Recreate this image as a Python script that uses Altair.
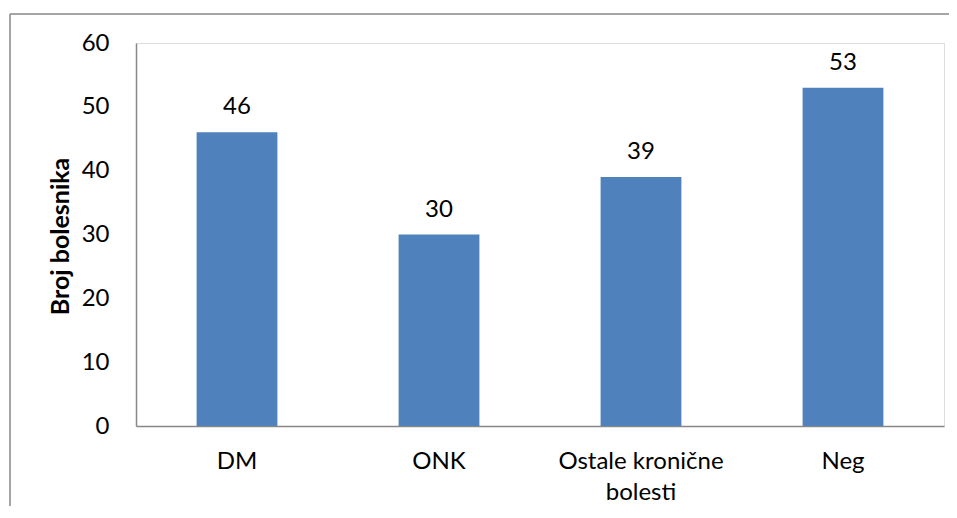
import altair as alt
import pandas as pd

categories = ["DM", "ONK", "Ostale kronične bolesti", "Neg"]
values = [46, 30, 39, 53]
y_ticks = [0, 10, 20, 30, 40, 50, 60]

df = pd.DataFrame({"kat": categories, "broj": values})

FONT = "Lato"
FS = 24
W, H = 808, 383

x_enc = alt.X(
    "kat:N",
    sort=categories,
    title=None,
    scale=alt.Scale(paddingInner=0.6, paddingOuter=0.3),
    axis=alt.Axis(
        labelAngle=0,
        ticks=False,
        domainColor="#878787",
        domainWidth=1.5,
        labelFont=FONT,
        labelFontSize=FS,
        labelColor="#000000",
        labelPadding=23,
        labelLineHeight=31,
        labelBaseline="top",
        labelExpr="datum.label == 'Ostale kronične bolesti' ? ['Ostale kronične', 'bolesti'] : datum.label",
    ),
)
y_enc = alt.Y(
    "broj:Q",
    title="Broj bolesnika",
    scale=alt.Scale(domain=[0, 60], nice=False),
    axis=alt.Axis(
        values=y_ticks,
        ticks=False,
        grid=False,
        domainColor="#878787",
        domainWidth=1.5,
        labelFont=FONT,
        labelFontSize=FS,
        labelColor="#000000",
        labelPadding=27,
        titleFont=FONT,
        titleFontSize=25,
        titleFontWeight="bold",
        titleColor="#000000",
        titleAngle=-90,
        titleX=-76,
        titleY=193,
        titleAlign="center",
        titleBaseline="middle",
    ),
)

bars = alt.Chart(df).mark_bar(color="#4F81BD").encode(x=x_enc, y=y_enc)
texts = alt.Chart(df).mark_text(
    font=FONT, fontSize=FS, color="#000000", baseline="alphabetic", dy=-18
).encode(x=alt.X("kat:N", sort=categories), y="broj:Q", text="broj:Q")

one = pd.DataFrame({"a": [0]})
frame_left = alt.Chart(one).mark_rule(color="#878787", strokeWidth=1.5).encode(
    x=alt.value(-126), y=alt.value(-29), y2=alt.value(H + 200)
)
frame_top = alt.Chart(one).mark_rule(color="#878787", strokeWidth=1.5).encode(
    x=alt.value(-126), x2=alt.value(W + 5), y=alt.value(-29), y2=alt.value(-29)
)

chart = alt.layer(frame_left, frame_top, bars, texts).properties(
    width=W, height=H,
    autosize=alt.AutoSizeParams(type="none"),
    padding={"left": 128, "top": 35, "right": 5, "bottom": 80},
).configure_view(strokeWidth=0).configure(background="#ffffff")

chart.save("out.html", embed_options={"renderer": "svg", "actions": False})
